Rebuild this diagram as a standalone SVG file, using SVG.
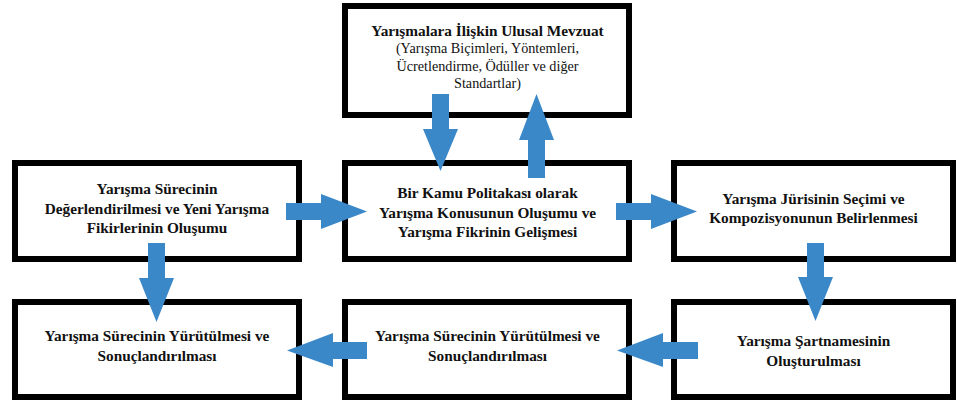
<svg xmlns="http://www.w3.org/2000/svg" width="957" height="401" viewBox="0 0 957 401">
<style>
.box{fill:#fff;stroke:#000;stroke-width:6}
.t{font-family:"Liberation Serif","Times New Roman",serif;font-size:15.3px;font-weight:bold;fill:#111;text-anchor:middle}
.r{font-weight:normal;font-size:14.2px}
.arr{fill:#3B88C9}
</style>
<rect width="957" height="401" fill="#fff"/>
<g id="n-mevzuat">
<rect class="box" x="345" y="6" width="284" height="109"/>
<text class="t" x="487.5" y="36">Yarışmalara İlişkin Ulusal Mevzuat</text>
<text class="t r" x="487.5" y="53">(Yarışma Biçimleri, Yöntemleri,</text>
<text class="t r" x="487.5" y="70.5">Ücretlendirme, Ödüller ve diğer</text>
<text class="t r" x="487.5" y="88">Standartlar)</text>
</g>
<g id="n-degerlendirme">
<rect class="box" x="15" y="163" width="284" height="96"/>
<text class="t" x="157" y="194">Yarışma Sürecinin</text>
<text class="t" x="157" y="214">Değerlendirilmesi ve Yeni Yarışma</text>
<text class="t" x="157" y="233">Fikirlerinin Oluşumu</text>
</g>
<g id="n-politika">
<rect class="box" x="345" y="163" width="284" height="96"/>
<text class="t" x="487.5" y="198">Bir Kamu Politakası olarak</text>
<text class="t" x="487.5" y="218">Yarışma Konusunun Oluşumu ve</text>
<text class="t" x="487.5" y="237">Yarışma Fikrinin Gelişmesi</text>
</g>
<g id="n-juri">
<rect class="box" x="674" y="163" width="279" height="96"/>
<text class="t" x="813.5" y="204">Yarışma Jürisinin Seçimi ve</text>
<text class="t" x="813.5" y="223">Kompozisyonunun Belirlenmesi</text>
</g>
<g id="n-yurutme1">
<rect class="box" x="15" y="302" width="284" height="95"/>
<text class="t" x="157" y="341">Yarışma Sürecinin Yürütülmesi ve</text>
<text class="t" x="157" y="361">Sonuçlandırılması</text>
</g>
<g id="n-yurutme2">
<rect class="box" x="345" y="302" width="284" height="95"/>
<text class="t" x="487.5" y="341">Yarışma Sürecinin Yürütülmesi ve</text>
<text class="t" x="487.5" y="361">Sonuçlandırılması</text>
</g>
<g id="n-sartname">
<rect class="box" x="674" y="302" width="279" height="95"/>
<text class="t" x="813.5" y="346">Yarışma Şartnamesinin</text>
<text class="t" x="813.5" y="366">Oluşturulması</text>
</g>
<g id="connectors">
<polygon class="arr" points="432,94 449,94 449,129 458,129 440.5,171 423,129 432,129"/>
<polygon class="arr" points="528,178 545,178 545,140 554,140 536.5,94 519,140 528,140"/>
<polygon class="arr" points="286,203 321,203 321,194 367,211.5 321,229 321,220 286,220"/>
<polygon class="arr" points="616,203 651,203 651,194 697,211.5 651,229 651,220 616,220"/>
<polygon class="arr" points="148,243 165,243 165,278 174,278 156.5,322 139,278 148,278"/>
<polygon class="arr" points="807,243 824,243 824,277 833,277 815.5,321 798,277 807,277"/>
<polygon class="arr" points="698,342 663,342 663,333 617,350.5 663,367 663,359 698,359"/>
<polygon class="arr" points="367,342 333,342 333,333 287,350.5 333,367 333,359 367,359"/>
</g>
</svg>
